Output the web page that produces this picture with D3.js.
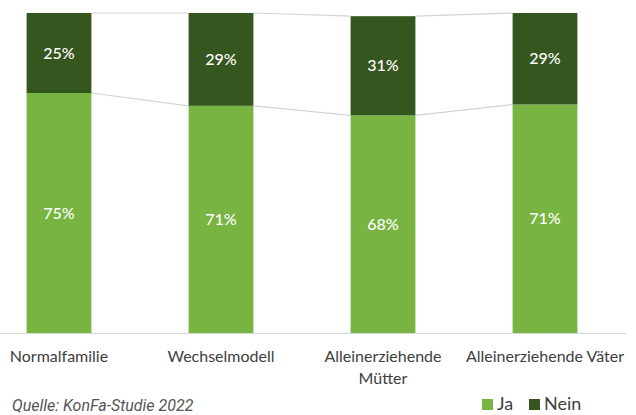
<!DOCTYPE html>
<html>
<head>
<meta charset="utf-8">
<script src="https://cdn.jsdelivr.net/npm/d3@7"></script>
<style>
  body { margin: 0; background: #fff; }
  svg { display: block; }
</style>
</head>
<body>
<svg id="chart" width="636" height="415"></svg>
<script>
// chart data
const categories = ['Normalfamilie', 'Wechselmodell', 'Alleinerziehende\nMütter', 'Alleinerziehende Väter'];
const ja = [75, 71, 68, 71.4];
const nein = [25, 29, 31, 28.6];
const seriesNames = ['Ja', 'Nein'];
const colors = ['#77b442', '#35561f'];

const svg = d3.select('#chart');
const axisY = 333;

const x = d3.scaleBand()
  .domain(categories)
  .range([-22, 626])
  .paddingInner(0.6)
  .paddingOuter(0.3);

const y = d3.scaleLinear()
  .domain([0, 100])
  .range([axisY, 13]);

const rows = categories.map((c, i) => ({ cat: c, Ja: ja[i], Nein: nein[i] }));
const stacked = d3.stack().keys(seriesNames)(rows);

// series lines between bars (drawn first, behind bars)
const lineGroup = svg.append('g').attr('class', 'series-lines');
stacked.forEach(layer => {
  for (let i = 0; i < layer.length - 1; i++) {
    lineGroup.append('line')
      .attr('x1', x(categories[i]) + x.bandwidth())
      .attr('x2', x(categories[i + 1]))
      .attr('y1', y(layer[i][1]))
      .attr('y2', y(layer[i + 1][1]))
      .attr('stroke', '#d4d4d4')
      .attr('stroke-width', 1.2);
  }
});

// stacked bars
const layers = svg.append('g').attr('class', 'bars')
  .selectAll('g')
  .data(stacked)
  .join('g')
  .attr('fill', (d, i) => colors[i]);

layers.selectAll('rect')
  .data(d => d)
  .join('rect')
  .attr('x', d => x(d.data.cat))
  .attr('width', x.bandwidth())
  .attr('y', d => y(d[1]))
  .attr('height', d => y(d[0]) - y(d[1]));

// value labels
layers.selectAll('text')
  .data(d => d)
  .join('text')
  .attr('x', d => x(d.data.cat) + x.bandwidth() / 2)
  .attr('y', d => (y(d[0]) + y(d[1])) / 2)
  .attr('dy', '0.35em')
  .attr('text-anchor', 'middle')
  .attr('fill', '#fff')
  .style('font-family', 'Lato, sans-serif')
  .style('font-size', '16px')
  .style('font-weight', '500')
  .text(d => Math.round(d[1] - d[0]) + '%');

// x axis baseline
svg.append('line')
  .attr('x1', 0).attr('x2', 626)
  .attr('y1', axisY + 0.5).attr('y2', axisY + 0.5)
  .attr('stroke', '#d9d9d9')
  .attr('stroke-width', 1);

// category labels
const catLabels = svg.append('g').attr('class', 'cat-labels')
  .selectAll('text')
  .data(categories)
  .join('text')
  .attr('x', d => x(d) + x.bandwidth() / 2)
  .attr('y', 362)
  .attr('text-anchor', 'middle')
  .attr('fill', '#404040')
  .style('font-family', 'Lato, sans-serif')
  .style('font-size', '16px');

catLabels.selectAll('tspan')
  .data(d => d.split('\n'))
  .join('tspan')
  .attr('x', function() { return d3.select(this.parentNode).attr('x'); })
  .attr('dy', (d, i) => i === 0 ? 0 : 22)
  .text(d => d);

// legend
const legend = svg.append('g').attr('class', 'legend')
  .selectAll('g')
  .data(seriesNames)
  .join('g')
  .attr('transform', (d, i) => `translate(${[482, 529][i]},399)`);

legend.append('rect')
  .attr('width', 11)
  .attr('height', 11)
  .attr('fill', (d, i) => colors[i]);

legend.append('text')
  .attr('x', 15)
  .attr('y', 11)
  .attr('fill', '#404040')
  .style('font-family', 'Lato, sans-serif')
  .style('font-size', '18px')
  .text(d => d);

// source note
svg.append('text')
  .attr('x', 12)
  .attr('y', 411)
  .attr('fill', '#555')
  .style('font-family', 'Roboto, sans-serif')
  .style('font-style', 'italic')
  .style('font-size', '16px')
  .text('Quelle: KonFa-Studie 2022');
</script>
</body>
</html>
